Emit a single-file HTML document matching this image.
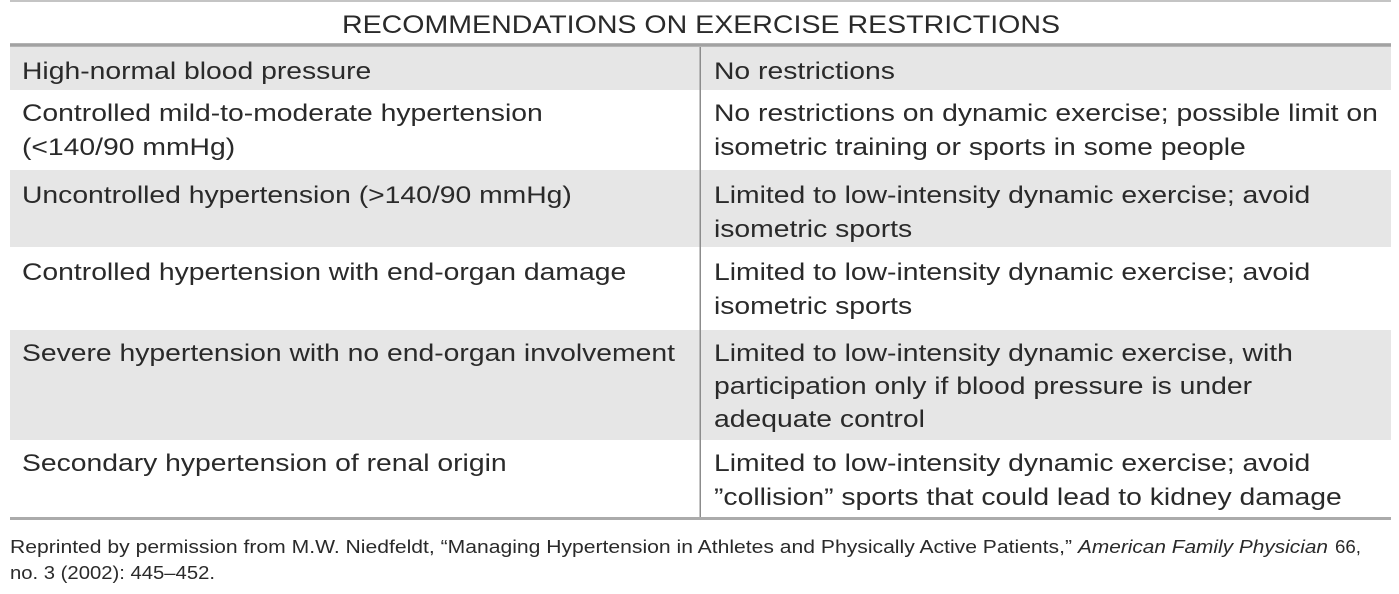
<!DOCTYPE html>
<html>
<head>
<meta charset="utf-8">
<style>
  html, body { margin: 0; padding: 0; background: #ffffff; }
  svg { display: block; }
  text { font-family: "Liberation Sans", Arial, sans-serif; fill: #2a2a2a; }
</style>
</head>
<body>
<svg width="1399" height="594" viewBox="0 0 1399 594" xmlns="http://www.w3.org/2000/svg">
  <rect x="0" y="0" width="1399" height="594" fill="#ffffff"/>
  <!-- top rule -->
  <rect x="10" y="0" width="1381" height="2" fill="#c4c4c4"/>
  <!-- title -->
  <text x="342" y="33" font-size="25" textLength="718" lengthAdjust="spacingAndGlyphs">RECOMMENDATIONS ON EXERCISE RESTRICTIONS</text>
  <!-- header rule -->
  <rect x="10" y="43" width="1381" height="4" fill="#b4b4b4"/>
  <rect x="10" y="44" width="1381" height="2" fill="#a2a2a2"/>
  <!-- shaded rows -->
  <rect x="10" y="47" width="1381" height="43" fill="#e6e6e6"/>
  <rect x="10" y="170" width="1381" height="77" fill="#e6e6e6"/>
  <rect x="10" y="330" width="1381" height="110" fill="#e6e6e6"/>
  <!-- vertical divider -->
  <rect x="699.5" y="47" width="1.5" height="471" fill="#8c8c8c"/>
  <!-- bottom rule -->
  <rect x="10" y="517" width="1381" height="3" fill="#ababab"/>

  <g transform="scale(1.18,1)" font-size="24">
    <!-- left column (x=22) -->
    <text x="18.64" y="79">High-normal blood pressure</text>
    <text x="18.64" y="121">Controlled mild-to-moderate hypertension</text>
    <text x="18.64" y="155">(&lt;140/90 mmHg)</text>
    <text x="18.64" y="203">Uncontrolled hypertension (&gt;140/90 mmHg)</text>
    <text x="18.64" y="280">Controlled hypertension with end-organ damage</text>
    <text x="18.64" y="361">Severe hypertension with no end-organ involvement</text>
    <text x="18.64" y="471">Secondary hypertension of renal origin</text>

    <!-- right column (x=714) -->
    <text x="605.08" y="79">No restrictions</text>
    <text x="605.08" y="121">No restrictions on dynamic exercise; possible limit on</text>
    <text x="605.08" y="155">isometric training or sports in some people</text>
    <text x="605.08" y="203">Limited to low-intensity dynamic exercise; avoid</text>
    <text x="605.08" y="237">isometric sports</text>
    <text x="605.08" y="280">Limited to low-intensity dynamic exercise; avoid</text>
    <text x="605.08" y="314">isometric sports</text>
    <text x="605.08" y="361">Limited to low-intensity dynamic exercise, with</text>
    <text x="605.08" y="394">participation only if blood pressure is under</text>
    <text x="605.08" y="427">adequate control</text>
    <text x="605.08" y="471">Limited to low-intensity dynamic exercise; avoid</text>
    <text x="605.08" y="505">”collision” sports that could lead to kidney damage</text>
  </g>

  <!-- footer -->
  <text x="10" y="553" font-size="18" textLength="1062" lengthAdjust="spacingAndGlyphs">Reprinted by permission from M.W. Niedfeldt, “Managing Hypertension in Athletes and Physically Active Patients,”</text>
  <text x="1078" y="553" font-size="18" font-style="italic" textLength="250" lengthAdjust="spacingAndGlyphs">American Family Physician</text>
  <text x="1335" y="553" font-size="18" textLength="26" lengthAdjust="spacingAndGlyphs">66,</text>
  <text x="10" y="579" font-size="18" textLength="205" lengthAdjust="spacingAndGlyphs">no. 3 (2002): 445–452.</text>
</svg>
</body>
</html>
